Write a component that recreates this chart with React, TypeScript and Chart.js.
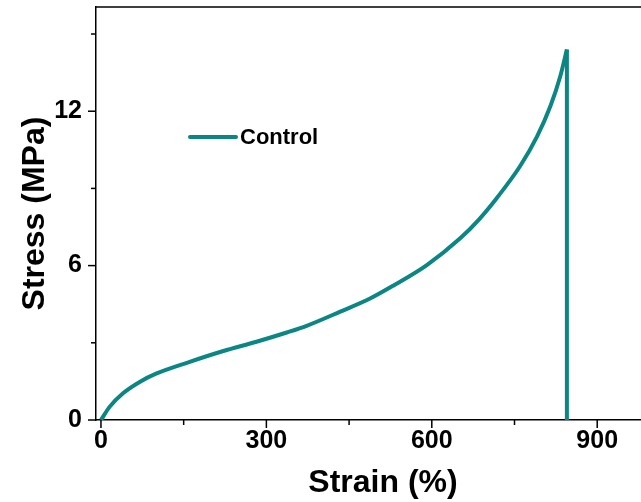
import React, { useEffect, useRef } from "react";
import { Chart, registerables } from "chart.js";

Chart.register(...registerables);

// Tensile curve of the control sample
const strain = [0, 16, 40, 71, 101, 161, 222, 282, 337, 373, 434, 488, 530, 591, 651, 685, 718, 760, 791, 815, 833, 845];
const stress = [0, 0.52, 1.04, 1.49, 1.81, 2.26, 2.68, 3.04, 3.4, 3.66, 4.21, 4.72, 5.22, 6.02, 7.05, 7.78, 8.63, 9.86, 11.02, 12.19, 13.36, 14.4];
// Break: stress drops straight to zero at the failure strain
const breakStrain = [845, 845];
const breakStress = [14.4, 0];

const xMajor = [0, 300, 600, 900];
const xMinor = [150, 450, 750];
const yMajor = [0, 6, 12];
const yMinor = [3, 9, 15];

const seriesName = "Control";
const lineColor = "#0b8682";
const FONT = "'Liberation Sans', Arial, sans-serif";

const framePlugin = {
  id: "frame",
  afterDraw(chart: any) {
    const { ctx, chartArea, scales } = chart;
    const { left, right, top, bottom } = chartArea;
    ctx.save();
    ctx.strokeStyle = "#000";
    ctx.lineWidth = 1.5;
    ctx.beginPath();
    ctx.moveTo(left, top);
    ctx.lineTo(right, top);
    ctx.lineTo(right, bottom);
    ctx.stroke();

    // outward tick marks
    const xtick = (vals: number[], len: number) => {
      vals.forEach((v) => {
        const px = scales.x.getPixelForValue(v);
        ctx.beginPath();
        ctx.moveTo(px, bottom);
        ctx.lineTo(px, bottom + len);
        ctx.stroke();
      });
    };
    const ytick = (vals: number[], len: number) => {
      vals.forEach((v) => {
        const py = scales.y.getPixelForValue(v);
        ctx.beginPath();
        ctx.moveTo(left, py);
        ctx.lineTo(left - len, py);
        ctx.stroke();
      });
    };
    xtick(xMajor, 8);
    xtick(xMinor, 5);
    ytick(yMajor, 8);
    ytick(yMinor, 5);

    // legend entry
    const lx = left + 94;
    const ly = top + 130;
    ctx.strokeStyle = lineColor;
    ctx.lineWidth = 4;
    ctx.lineCap = "round";
    ctx.beginPath();
    ctx.moveTo(lx, ly);
    ctx.lineTo(lx + 46, ly);
    ctx.stroke();
    ctx.fillStyle = "#000";
    ctx.font = `bold 22px ${FONT}`;
    ctx.textBaseline = "middle";
    ctx.textAlign = "left";
    ctx.fillText(seriesName, lx + 50, ly + 1);
    ctx.restore();
  },
};

export default function App() {
  const ref = useRef<HTMLCanvasElement>(null);

  useEffect(() => {
    const canvas = ref.current!;
    const chart = new Chart(canvas, {
      type: "line",
      data: {
        datasets: [
          {
            label: seriesName,
            data: strain.map((x, i) => ({ x, y: stress[i] })),
            borderColor: lineColor,
            borderWidth: 4,
            pointRadius: 0,
            cubicInterpolationMode: "monotone",
            fill: false,
          },
          {
            label: seriesName + " break",
            data: breakStrain.map((x, i) => ({ x, y: breakStress[i] })),
            borderColor: lineColor,
            borderWidth: 4,
            pointRadius: 0,
            tension: 0,
            fill: false,
          },
        ],
      },
      options: {
        animation: false,
        responsive: false,
        layout: { autoPadding: false, padding: { top: 7, right: 10, left: 0, bottom: 0 } },
        plugins: { legend: { display: false }, tooltip: { enabled: false } },
        scales: {
          x: {
            type: "linear",
            min: -9,
            max: 1032,
            afterFit: (s: any) => {
              s.height = 82;
              s.paddingLeft = 0;
              s.paddingRight = 0;
            },
            afterBuildTicks: (s: any) => {
              s.ticks = xMajor.map((v) => ({ value: v }));
            },
            grid: { display: false, drawTicks: false },
            border: { display: true, color: "#000", width: 1.5 },
            ticks: {
              color: "#000",
              padding: 6,
              maxRotation: 0,
              font: { family: FONT, size: 25, weight: "bold" },
            },
            title: {
              display: true,
              text: "Strain (%)",
              color: "#000",
              padding: { top: 3, bottom: 0 },
              font: { family: FONT, size: 32, weight: "bold" },
            },
          },
          y: {
            type: "linear",
            min: 0,
            max: 16.05,
            afterFit: (s: any) => {
              s.width = 96;
              s.paddingTop = 0;
              s.paddingBottom = 0;
            },
            afterBuildTicks: (s: any) => {
              s.ticks = yMajor.map((v) => ({ value: v }));
            },
            grid: { display: false, drawTicks: false },
            border: { display: true, color: "#000", width: 1.5 },
            ticks: {
              color: "#000",
              padding: 14,
              font: { family: FONT, size: 25, weight: "bold" },
            },
            title: {
              display: true,
              text: "Stress (MPa)",
              color: "#000",
              padding: { top: 16, bottom: 0 },
              font: { family: FONT, size: 32, weight: "bold" },
            },
          },
        },
      },
      plugins: [framePlugin],
    });
    return () => chart.destroy();
  }, []);

  return (
    <div style={{ position: "fixed", left: 0, top: 0, width: 641, height: 502, overflow: "hidden", background: "#fff" }}>
      <canvas ref={ref} width={680} height={502} style={{ display: "block" }} />
    </div>
  );
}
